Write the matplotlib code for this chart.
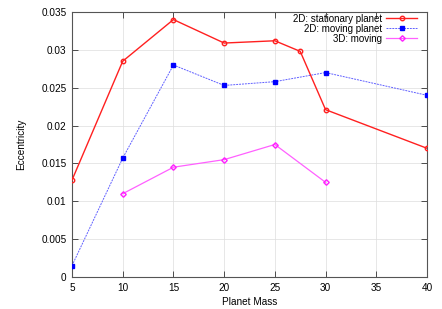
import matplotlib.pyplot as plt

# data
mass_stat = [5, 10, 15, 20, 25, 27.5, 30, 40]
ecc_stat = [0.0128, 0.0285, 0.0340, 0.0309, 0.0312, 0.0298, 0.0221, 0.0170]

mass_move = [5, 10, 15, 20, 25, 30, 40]
ecc_move = [0.0015, 0.0157, 0.0280, 0.0253, 0.0258, 0.0270, 0.0240]

mass_3d = [10, 15, 20, 25, 30]
ecc_3d = [0.0110, 0.0145, 0.0155, 0.0175, 0.0125]

xticks = [5, 10, 15, 20, 25, 30, 35, 40]
yticks = [0, 0.005, 0.01, 0.015, 0.02, 0.025, 0.03, 0.035]
ytick_labels = ['0', '0.005', '0.01', '0.015', '0.02', '0.025', '0.03', '0.035']

plt.rcParams['font.family'] = ['Liberation Sans', 'DejaVu Sans']

fig = plt.figure(figsize=(4.42, 3.09), dpi=100)
ax = fig.add_axes([72 / 442, 1 - 277 / 309, (427 - 72) / 442, (277 - 12) / 309])

ax.plot(mass_stat, ecc_stat, color='#ff2020', linewidth=1.0, marker='o',
        markersize=3.2, markerfacecolor='none', markeredgewidth=1.0,
        label='2D: stationary planet', zorder=5)
ax.plot(mass_move, ecc_move, color='#6060ff', linewidth=0.7, linestyle=(0, (2, 1)),
        marker='s', markersize=2.3, markerfacecolor='#0000ff', markeredgecolor='#0000ff',
        label='2D: moving planet', zorder=4)
ax.plot(mass_3d, ecc_3d, color='#ff60ff', linewidth=0.9, marker='D',
        markersize=2.8, markerfacecolor='none', markeredgecolor='#ff20ff', markeredgewidth=1.0,
        label='3D: moving', zorder=3)

ax.set_xlim(5, 40)
ax.set_ylim(0, 0.035)
ax.set_xticks(xticks)
ax.set_yticks(yticks)
ax.set_yticklabels(ytick_labels)
ax.tick_params(direction='in', length=4, width=0.6, labelsize=7.2, top=True, right=True,
               colors='#333333', labelcolor='black', pad=4)
ax.set_xlabel('Planet Mass', fontsize=7.2, labelpad=3)
ax.set_ylabel('Eccentricity', fontsize=7.2, labelpad=11)

ax.grid(True, color='#dddddd', linewidth=0.5)
for side in ax.spines.values():
    side.set_color('#555555')
    side.set_linewidth(0.8)

leg = ax.legend(loc='upper right', bbox_to_anchor=(0.983, 1.0075), fontsize=7,
                frameon=False, markerfirst=False, handlelength=3.2, labelspacing=0.0,
                borderaxespad=0.0, handletextpad=0.4)
for t in leg.get_texts():
    t.set_ha('right')
leg._legend_box.align = 'right'

fig.savefig('out.png', dpi=100)
